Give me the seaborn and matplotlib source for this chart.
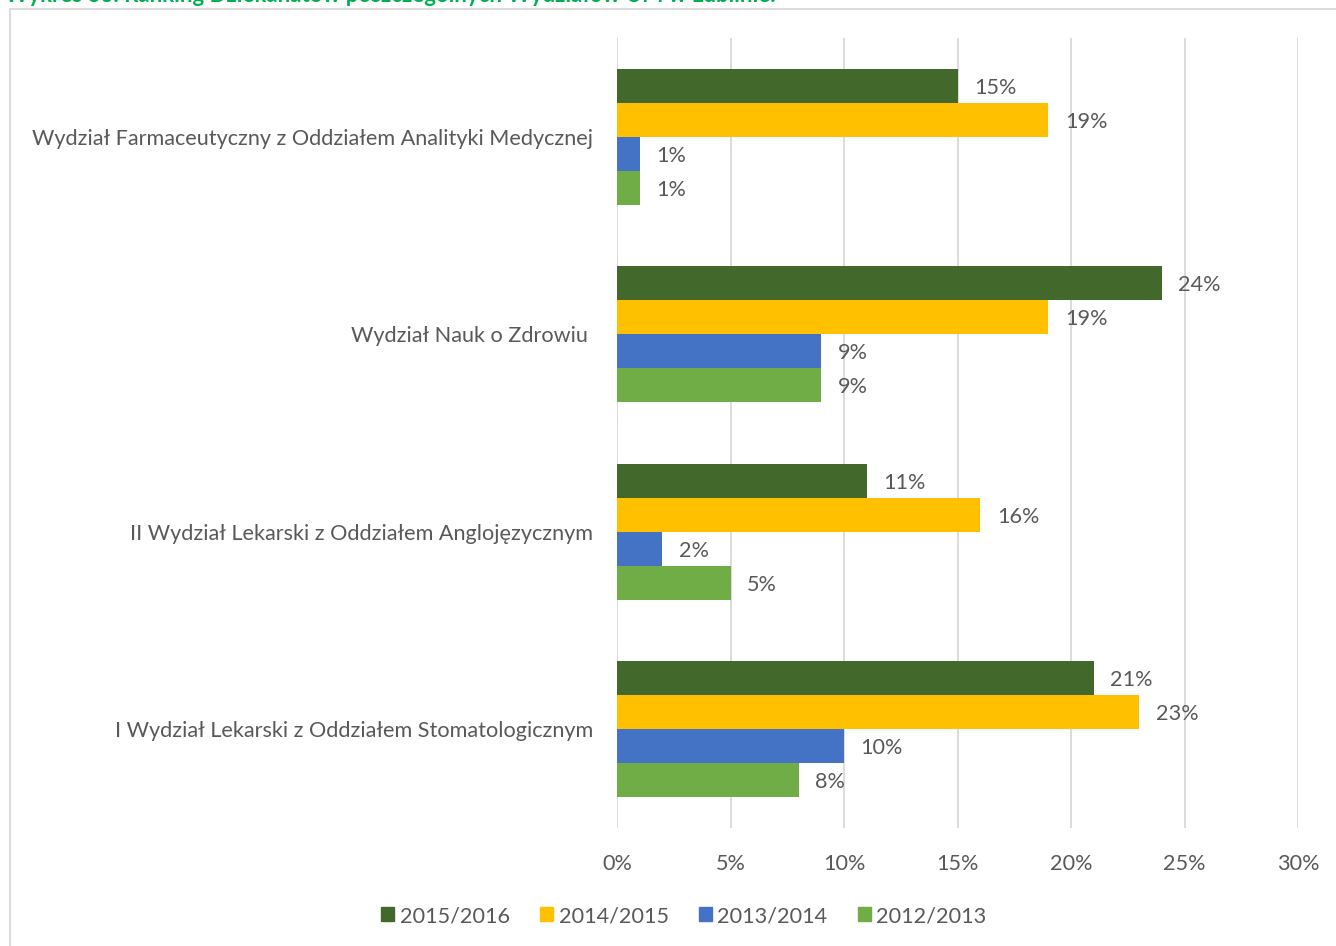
import matplotlib
matplotlib.use("Agg")
import matplotlib.pyplot as plt
import matplotlib.patches as mpatches
from matplotlib.ticker import FuncFormatter, MultipleLocator
import seaborn as sns
import pandas as pd

departments = [
    "Wydział Farmaceutyczny z Oddziałem Analityki Medycznej",
    "Wydział Nauk o Zdrowiu ",
    "II Wydział Lekarski z Oddziałem Anglojęzycznym",
    "I Wydział Lekarski z Oddziałem Stomatologicznym",
]
years = ["2015/2016", "2014/2015", "2013/2014", "2012/2013"]
v_2015_2016 = [15, 24, 11, 21]
v_2014_2015 = [19, 19, 16, 23]
v_2013_2014 = [1, 9, 2, 10]
v_2012_2013 = [1, 9, 5, 8]
colors = ["#43682B", "#FFC000", "#4472C4", "#70AD47"]
title = "Wykres 33. Ranking Dziekanatów poszczególnych Wydziałów UM w Lublinie."

series = [v_2015_2016, v_2014_2015, v_2013_2014, v_2012_2013]
rows = []
for year, vals in zip(years, series):
    for dep, v in zip(departments, vals):
        rows.append({"Wydział": dep, "Rok": year, "Udział": v})
df = pd.DataFrame(rows)

sns.set_theme(style="white")
plt.rcParams["font.family"] = ["Lato", "DejaVu Sans"]
text_color = "#595959"
fs = 15.6

fig = plt.figure(figsize=(13.36, 9.46), dpi=100)
ax = fig.add_axes([617 / 1336, 1 - 828 / 946, (1298 - 617) / 1336, 790 / 946])

sns.barplot(data=df, y="Wydział", x="Udział", hue="Rok", order=departments,
            hue_order=years, palette=colors, orient="h", width=0.69,
            saturation=1, linewidth=0, ax=ax, legend=False)

for cont in ax.containers:
    labels = ax.bar_label(cont, labels=[f"{int(round(b.get_width()))}%" for b in cont],
                          padding=12, fontsize=fs, color=text_color)
    for t in labels:
        t.set_y(t.get_position()[1])
        t.set_va("center_baseline")

ax.set_xlim(0, 30)
ax.set_ylim(3.5, -0.5)
ax.xaxis.set_major_locator(MultipleLocator(5))
ax.xaxis.set_major_formatter(FuncFormatter(lambda v, p: f"{int(v)}%"))
ax.grid(axis="x", color="#D9D9D9", linewidth=1.3)
ax.set_axisbelow(True)
for s in ax.spines.values():
    s.set_visible(False)
ax.set_xlabel("")
ax.set_ylabel("")
ax.tick_params(axis="x", length=0, labelsize=fs, labelcolor=text_color, pad=19)
ax.tick_params(axis="y", length=0, labelsize=fs, labelcolor=text_color, pad=17)

handles = [mpatches.Patch(color=c, label=y) for c, y in zip(colors, years)]
fig.legend(handles=handles, loc="center", bbox_to_anchor=(684 / 1336, 1 - 916 / 946),
           ncol=4, frameon=False, fontsize=fs, labelcolor=text_color,
           handlelength=0.6, handleheight=0.6, handletextpad=0.25, columnspacing=1.4)

# chart frame
fig.patches.append(mpatches.Rectangle((10 / 1336, -0.01), 1.02, 1 - 9 / 946 + 0.01,
                                      transform=fig.transFigure, fill=False,
                                      edgecolor="#D9D9D9", linewidth=1.3))
fig.text(5 / 1336, 1 - 2 / 946, title, color="#00B050", fontsize=16,
         fontweight="bold", ha="left", va="baseline")

fig.savefig("out.png", dpi=100, facecolor="white")
